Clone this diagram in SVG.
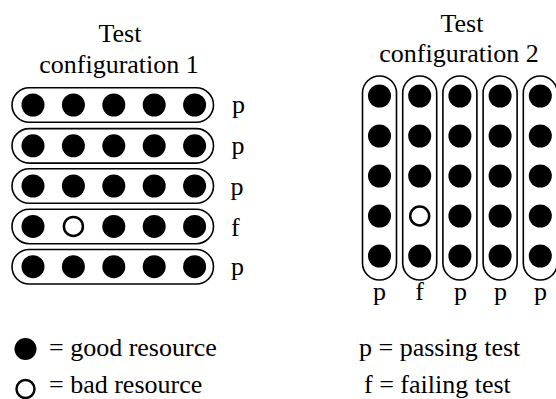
<svg xmlns="http://www.w3.org/2000/svg" width="556" height="399" viewBox="0 0 556 399">
<style>
text{font-family:"Liberation Serif","Times New Roman",serif;font-size:26px;fill:#000}
.cap{fill:none;stroke:#000;stroke-width:1.6}
.g{fill:#000}
.b{fill:#fff;stroke:#000;stroke-width:2.5}
.m{text-anchor:middle}
</style>
<rect width="556" height="399" fill="#fff"/>
<g id="title1">
<text class="m" x="120" y="42">Test</text>
<text class="m" x="119" y="73">configuration 1</text>
</g>
<g id="title2">
<text class="m" x="462" y="32">Test</text>
<text class="m" x="459" y="62">configuration 2</text>
</g>
<g id="config1">
<g id="row1">
<rect class="cap" x="12" y="87.8" width="201.5" height="34.5" rx="17.25"/>
<circle class="g" cx="33" cy="105" r="11.5"/><circle class="g" cx="73.4" cy="105" r="11.5"/><circle class="g" cx="113.8" cy="105" r="11.5"/><circle class="g" cx="154.2" cy="105" r="11.5"/><circle class="g" cx="194.6" cy="105" r="11.5"/>
<text x="232" y="113">p</text>
</g>
<g id="row2">
<rect class="cap" x="12" y="128.6" width="201.5" height="34.5" rx="17.25"/>
<circle class="g" cx="33" cy="145.8" r="11.5"/><circle class="g" cx="73.4" cy="145.8" r="11.5"/><circle class="g" cx="113.8" cy="145.8" r="11.5"/><circle class="g" cx="154.2" cy="145.8" r="11.5"/><circle class="g" cx="194.6" cy="145.8" r="11.5"/>
<text x="231.5" y="154">p</text>
</g>
<g id="row3">
<rect class="cap" x="12" y="168.8" width="201.5" height="34.5" rx="17.25"/>
<circle class="g" cx="33" cy="186" r="11.5"/><circle class="g" cx="73.4" cy="186" r="11.5"/><circle class="g" cx="113.8" cy="186" r="11.5"/><circle class="g" cx="154.2" cy="186" r="11.5"/><circle class="g" cx="194.6" cy="186" r="11.5"/>
<text x="230.5" y="194.5">p</text>
</g>
<g id="row4">
<rect class="cap" x="12" y="209.2" width="201.5" height="34.5" rx="17.25"/>
<circle class="g" cx="33" cy="226.4" r="11.5"/><circle class="b" cx="73.4" cy="226.4" r="9.5"/><circle class="g" cx="113.8" cy="226.4" r="11.5"/><circle class="g" cx="154.2" cy="226.4" r="11.5"/><circle class="g" cx="194.6" cy="226.4" r="11.5"/>
<text x="231" y="236">f</text>
</g>
<g id="row5">
<rect class="cap" x="12" y="249.5" width="201.5" height="34.5" rx="17.25"/>
<circle class="g" cx="33" cy="266.7" r="11.5"/><circle class="g" cx="73.4" cy="266.7" r="11.5"/><circle class="g" cx="113.8" cy="266.7" r="11.5"/><circle class="g" cx="154.2" cy="266.7" r="11.5"/><circle class="g" cx="194.6" cy="266.7" r="11.5"/>
<text x="231" y="275">p</text>
</g>
</g>
<g id="config2">
<g id="col1">
<rect class="cap" x="362.5" y="76" width="34" height="204" rx="17"/>
<circle class="g" cx="379.5" cy="96" r="11.5"/><circle class="g" cx="379.5" cy="136" r="11.5"/><circle class="g" cx="379.5" cy="176" r="11.5"/><circle class="g" cx="379.5" cy="216" r="11.5"/><circle class="g" cx="379.5" cy="256" r="11.5"/>
<text class="m" x="379.5" y="300">p</text>
</g>
<g id="col2">
<rect class="cap" x="402.7" y="76" width="34" height="204" rx="17"/>
<circle class="g" cx="419.7" cy="96" r="11.5"/><circle class="g" cx="419.7" cy="136" r="11.5"/><circle class="g" cx="419.7" cy="176" r="11.5"/><circle class="b" cx="419.7" cy="216" r="9.5"/><circle class="g" cx="419.7" cy="256" r="11.5"/>
<text class="m" x="419.7" y="300">f</text>
</g>
<g id="col3">
<rect class="cap" x="442.9" y="76" width="34" height="204" rx="17"/>
<circle class="g" cx="459.9" cy="96" r="11.5"/><circle class="g" cx="459.9" cy="136" r="11.5"/><circle class="g" cx="459.9" cy="176" r="11.5"/><circle class="g" cx="459.9" cy="216" r="11.5"/><circle class="g" cx="459.9" cy="256" r="11.5"/>
<text class="m" x="460.5" y="300">p</text>
</g>
<g id="col4">
<rect class="cap" x="483.1" y="76" width="34" height="204" rx="17"/>
<circle class="g" cx="500.1" cy="96" r="11.5"/><circle class="g" cx="500.1" cy="136" r="11.5"/><circle class="g" cx="500.1" cy="176" r="11.5"/><circle class="g" cx="500.1" cy="216" r="11.5"/><circle class="g" cx="500.1" cy="256" r="11.5"/>
<text class="m" x="500.5" y="300">p</text>
</g>
<g id="col5">
<rect class="cap" x="523.3" y="76" width="34" height="204" rx="17"/>
<circle class="g" cx="540.3" cy="96" r="11.5"/><circle class="g" cx="540.3" cy="136" r="11.5"/><circle class="g" cx="540.3" cy="176" r="11.5"/><circle class="g" cx="540.3" cy="216" r="11.5"/><circle class="g" cx="540.3" cy="256" r="11.5"/>
<text class="m" x="540.5" y="300">p</text>
</g>
</g>
<g id="connectors"></g>
<g id="legend">
<circle class="g" cx="25.5" cy="349" r="11"/>
<text x="49" y="356">= good resource</text>
<circle class="b" cx="25.5" cy="389" r="9"/>
<text x="49" y="393">= bad resource</text>
<text x="359" y="356">p = passing test</text>
<text x="364" y="393">f = failing test</text>
</g>
</svg>
